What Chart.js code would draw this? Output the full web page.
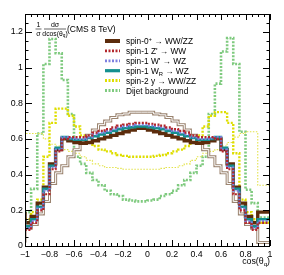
<!DOCTYPE html>
<html>
<head>
<meta charset="utf-8">
<script src="https://cdn.jsdelivr.net/npm/chart.js@4.4.0/dist/chart.umd.min.js"></script>
<style>
  html, body { margin: 0; padding: 0; background: #fff; }
</style>
</head>
<body>
<canvas id="cosChart" width="284" height="275"></canvas>
<script>
// tick labels
var xTicks = ['\u22121', '\u22120.8', '\u22120.6', '\u22120.4', '\u22120.2', '0', '0.2', '0.4', '0.6', '0.8', '1'];
var yTicks = ['0', '0.2', '0.4', '0.6', '0.8', '1', '1.2'];

// 40 bins of cos(theta) from -1 to 1
var binLow = -1, binWidth = 0.05, nBins = 40;

var legendLabels = ['spin-0^{+} \u2192 WW/ZZ', "spin-1 Z' \u2192 WW", "spin-1 W' \u2192 WZ",
                    'spin-1 W_{R} \u2192 WZ', 'spin-2 y \u2192 WW/ZZ', 'Dijet background'];

var spin0 = [0.19, 0.13, 0.165, 0.24, 0.33, 0.46, 0.54, 0.60, 0.59, 0.58, 0.575, 0.58, 0.59, 0.60, 0.61, 0.62, 0.63, 0.64, 0.65, 0.66,
             0.66, 0.65, 0.64, 0.63, 0.62, 0.61, 0.60, 0.59, 0.58, 0.575, 0.58, 0.59, 0.60, 0.54, 0.46, 0.33, 0.24, 0.165, 0.13, 0.19];
var zprime = [0.13, 0.09, 0.13, 0.20, 0.29, 0.43, 0.53, 0.60, 0.61, 0.61, 0.61, 0.62, 0.635, 0.645, 0.655, 0.665, 0.675, 0.68, 0.685, 0.69,
              0.69, 0.685, 0.68, 0.675, 0.665, 0.655, 0.645, 0.635, 0.62, 0.61, 0.61, 0.61, 0.60, 0.53, 0.43, 0.29, 0.20, 0.13, 0.09, 0.13];
var wprime = [0.14, 0.10, 0.14, 0.21, 0.31, 0.44, 0.54, 0.61, 0.605, 0.60, 0.60, 0.61, 0.625, 0.635, 0.645, 0.655, 0.665, 0.67, 0.675, 0.68,
              0.68, 0.675, 0.67, 0.665, 0.655, 0.645, 0.635, 0.625, 0.61, 0.60, 0.60, 0.605, 0.61, 0.54, 0.44, 0.31, 0.21, 0.14, 0.10, 0.14];
var wr = [0.15, 0.11, 0.15, 0.22, 0.32, 0.45, 0.55, 0.61, 0.60, 0.595, 0.595, 0.605, 0.615, 0.625, 0.635, 0.645, 0.655, 0.66, 0.665, 0.67,
          0.67, 0.665, 0.66, 0.655, 0.645, 0.635, 0.625, 0.615, 0.605, 0.595, 0.595, 0.60, 0.61, 0.55, 0.45, 0.32, 0.22, 0.15, 0.11, 0.15];
var spin0b = [0.02, 0.10, 0.12, 0.18, 0.25, 0.35, 0.41, 0.45, 0.50, 0.54, 0.58, 0.62, 0.65, 0.68, 0.70, 0.72, 0.735, 0.74, 0.75, 0.75,
              0.75, 0.75, 0.74, 0.735, 0.72, 0.70, 0.68, 0.65, 0.62, 0.58, 0.54, 0.50, 0.45, 0.41, 0.35, 0.25, 0.18, 0.12, 0.10, 0.02];
var spin2 = [0.13, 0.15, 0.19, 0.26, 0.50, 0.69, 0.77, 0.77, 0.73, 0.67, 0.62, 0.58, 0.56, 0.54, 0.53, 0.52, 0.51, 0.505, 0.50, 0.50,
             0.50, 0.50, 0.505, 0.51, 0.52, 0.53, 0.54, 0.56, 0.58, 0.62, 0.67, 0.73, 0.75, 0.75, 0.69, 0.52, 0.26, 0.19, 0.15, 0.13];
var spin2b = [0.35, 0.63, 0.63, 0.63, 0.60, 0.57, 0.56, 0.54, 0.53, 0.52, 0.50, 0.48, 0.46, 0.45, 0.44, 0.44, 0.435, 0.43, 0.43, 0.43,
              0.43, 0.43, 0.43, 0.435, 0.44, 0.44, 0.45, 0.46, 0.48, 0.50, 0.52, 0.53, 0.54, 0.56, 0.58, 0.61, 0.63, 0.64, 0.64, 0.34];
var dijet = [0.13, 0.19, 0.32, 0.63, 1.02, 1.16, 1.08, 0.93, 0.74, 0.50, 0.46, 0.41, 0.37, 0.34, 0.31, 0.29, 0.28, 0.26, 0.255, 0.25,
             0.25, 0.255, 0.26, 0.28, 0.29, 0.31, 0.34, 0.37, 0.41, 0.45, 0.50, 0.74, 0.91, 1.09, 1.165, 1.02, 0.64, 0.315, 0.24, 0.16];

function histPoints(vals) {
  var pts = [];
  for (var i = 0; i <= nBins; i++) {
    pts.push({ x: binLow + i * binWidth, y: vals[Math.min(i, nBins - 1)] });
  }
  return pts;
}

function hist(vals, color, width, dash, order) {
  return {
    data: histPoints(vals),
    borderColor: color,
    borderWidth: width,
    borderDash: dash,
    stepped: 'after',
    pointRadius: 0,
    fill: false,
    order: order
  };
}

var datasets = [
  hist(zprime, '#b3262b', 2.2, [2, 1.5], 1),
  hist(wprime, '#7d7fe0', 2.2, [2, 1.5], 2),
  hist(wr, '#14908f', 2.6, [], 3),
  hist(spin0, '#5c2c0c', 3.4, [], 4),
  hist(spin0b, '#ffffff', 1, [], 5),
  hist(spin0b, '#9b8470', 3, [], 6),
  hist(spin2, '#dede00', 2.4, [2, 1.5], 7),
  hist(spin2b, '#e3e34a', 1.1, [1.5, 1.5], 8),
  hist(dijet, '#7fca7f', 2.6, [2, 1.5], 9)
];
// legend entry -> dataset index
var legendSets = [3, 0, 1, 2, 6, 8];

var font = "'Liberation Sans', Arial, sans-serif";

// text with ^{} and _{} pieces
function richText(c, str, x, y, size, align) {
  var parts = [], re = /([\^_])\{([^}]*)\}/g, last = 0, m;
  while ((m = re.exec(str)) !== null) {
    if (m.index > last) parts.push([str.slice(last, m.index), 0]);
    parts.push([m[2], m[1] === '^' ? -1 : 1]);
    last = re.lastIndex;
  }
  if (last < str.length) parts.push([str.slice(last), 0]);
  var w = 0;
  parts.forEach(function (p) {
    c.font = (p[1] ? size * 0.7 : size) + 'px ' + font;
    p.push(c.measureText(p[0]).width);
    w += p[2];
  });
  var cx = align === 'right' ? x - w : (align === 'center' ? x - w / 2 : x);
  c.textAlign = 'left';
  c.textBaseline = 'alphabetic';
  parts.forEach(function (p) {
    c.font = (p[1] ? size * 0.7 : size) + 'px ' + font;
    var dy = p[1] === -1 ? -size * 0.4 : (p[1] === 1 ? size * 0.25 : 0);
    c.fillText(p[0], cx, y + dy);
    cx += p[2];
  });
  return w;
}

var decor = {
  id: 'decor',
  afterDatasetsDraw: function (chart) {
    var c = chart.ctx, a = chart.chartArea;
    var xs = chart.scales.x, ys = chart.scales.y;
    c.save();
    c.strokeStyle = '#000';
    c.lineWidth = 1;
    c.setLineDash([]);
    c.strokeRect(a.left + 0.5, a.top + 0.5, a.right - a.left - 1, a.bottom - a.top);
    c.beginPath();
    for (var i = 0; i <= nBins; i++) {
      var px = Math.round(xs.getPixelForValue(binLow + i * binWidth)) + 0.5;
      var len = (i % 4 === 0) ? 6 : 3;
      c.moveTo(px, a.bottom); c.lineTo(px, a.bottom - len);
      c.moveTo(px, a.top); c.lineTo(px, a.top + len);
    }
    for (var j = 0; j <= 26; j++) {
      var py = Math.round(ys.getPixelForValue(j * 0.05)) + 0.5;
      var l2 = (j % 4 === 0) ? 7 : 3.5;
      c.moveTo(a.left, py); c.lineTo(a.left + l2, py);
      c.moveTo(a.right, py); c.lineTo(a.right - l2, py);
    }
    c.stroke();

    // legend
    for (var k = 0; k < legendLabels.length; k++) {
      var ds = chart.data.datasets[legendSets[k]];
      var ly = 41 + k * 9.9;
      c.beginPath();
      c.strokeStyle = ds.borderColor;
      c.lineWidth = ds.borderWidth + 0.6;
      c.setLineDash(ds.borderDash);
      c.moveTo(105, ly); c.lineTo(120, ly);
      c.stroke();
      c.setLineDash([]);
      c.fillStyle = '#000';
      richText(c, legendLabels[k], 126, ly + 3, 8.3, 'left');
    }

    // y title
    c.fillStyle = '#000';
    c.font = '7px ' + font;
    c.textAlign = 'center';
    c.fillText('1', 38.5, 26.5);
    c.fillText('\u03c3', 38.5, 35.5);
    c.fillText('d\u03c3', 55, 26.5);
    richText(c, 'dcos(\u03b8_{q})', 55, 35.5, 6.8, 'center');
    c.strokeStyle = '#000';
    c.lineWidth = 0.6;
    c.beginPath();
    c.moveTo(35.5, 29); c.lineTo(41.5, 29);
    c.moveTo(44, 29); c.lineTo(66, 29);
    c.stroke();
    richText(c, '(CMS 8 TeV)', 67, 32, 8.5, 'left');

    // x title
    richText(c, 'cos(\u03b8_{q})', 270, 264, 8.8, 'right');
    c.restore();
  }
};

new Chart(document.getElementById('cosChart').getContext('2d'), {
  type: 'line',
  data: { datasets: datasets },
  options: {
    responsive: false,
    animation: false,
    devicePixelRatio: 1,
    layout: { padding: { top: 14, right: 14, left: 0, bottom: 0 } },
    plugins: { legend: { display: false }, tooltip: { enabled: false } },
    scales: {
      x: {
        type: 'linear',
        min: -1,
        max: 1,
        grid: { display: false, drawTicks: false },
        border: { display: false },
        afterFit: function (s) { s.height = 29; },
        afterBuildTicks: function (s) {
          s.ticks = xTicks.map(function (t, i) { return { value: -1 + i * 0.2 }; });
        },
        ticks: {
          autoSkip: false,
          maxRotation: 0,
          padding: 3,
          color: '#000',
          font: { family: font, size: 8.8 },
          callback: function (v, i) { return xTicks[i]; }
        }
      },
      y: {
        min: 0,
        max: 1.3,
        grid: { display: false, drawTicks: false },
        border: { display: false },
        afterFit: function (s) { s.width = 25; },
        afterBuildTicks: function (s) {
          s.ticks = yTicks.map(function (t, i) { return { value: i * 0.2 }; });
        },
        ticks: {
          padding: 2,
          color: '#000',
          font: { family: font, size: 8.8 },
          callback: function (v, i) { return yTicks[i]; }
        }
      }
    }
  },
  plugins: [decor]
});
</script>
</body>
</html>
